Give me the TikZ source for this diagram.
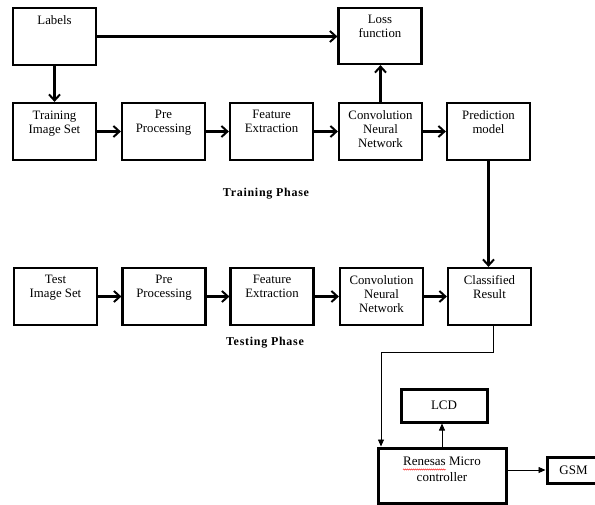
\documentclass[tikz,border=0pt]{standalone}
\usepackage{fontspec}
\setmainfont{Liberation Serif}
\usetikzlibrary{arrows.meta,decorations.pathmorphing}
\begin{document}
\begin{tikzpicture}[x=1pt,y=-1pt,
  blk/.style={draw, line width=2.2pt, minimum width=83pt, minimum height=57pt, inner sep=0pt},
  hw/.style={draw, line width=3pt, inner sep=0pt},
  txt/.style={font=\fontsize{12.8}{14}\selectfont, align=center, inner sep=0pt, anchor=north, yshift=-8.5pt},
  hwtxt/.style={font=\fontsize{13}{16}\selectfont, align=center},
  phase/.style={font=\fontsize{12}{14}\selectfont\bfseries\addfontfeature{LetterSpace=6}},
  thk/.style={line width=2.2pt, -{Straight Barb[length=6pt,width=11pt,line width=2pt]}},
  thn/.style={line width=0.8pt, -{Triangle[length=7pt,width=6pt]}}
]
\clip (0,0) rectangle (595,504);
% training row
\node[blk, label={[txt]north:{Labels}}] (lab) at (54.5,36.5) {};
\node[blk, minimum height=56pt, label={[txt]north:{Loss\\function}}] (loss) at (380,36) {};
\node[blk, label={[txt]north:{Training\\Image Set}}] (tr) at (54.5,131.5) {};
\node[blk, label={[txt]north:{Pre\\Processing}}] (pp1) at (163.5,131.5) {};
\node[blk, label={[txt]north:{Feature\\Extraction}}] (fe1) at (271.5,131.5) {};
\node[blk, label={[txt]north:{Convolution\\Neural\\Network}}] (cnn1) at (380.5,131.5) {};
\node[blk, label={[txt]north:{Prediction\\model}}] (pm) at (488.5,131.5) {};
\node[phase] (trp) at (266,194) {Training Phase};
% testing row
\node[blk, label={[txt]north:{Test\\Image Set}}] (te) at (55.5,296.5) {};
\node[blk, label={[txt]north:{Pre\\Processing}}] (pp2) at (164,296.5) {};
\node[blk, label={[txt]north:{Feature\\Extraction}}] (fe2) at (272,296.5) {};
\node[blk, label={[txt]north:{Convolution\\Neural\\Network}}] (cnn2) at (381.5,296.5) {};
\node[blk, label={[txt]north:{Classified\\Result}}] (cr) at (489.5,296.5) {};
\node[phase] (tep) at (265,343) {Testing Phase};
% hardware
\node[hw, minimum width=86pt, minimum height=33pt, hwtxt] (lcd) at (444,405.5) {LCD};
\node[hw, minimum width=128pt, minimum height=55pt,
  label={[hwtxt, inner sep=0pt, anchor=north, yshift=-10pt]north:{Renesas Micro\\controller}}] (rm) at (442,475.5) {};
\node[hw, minimum width=53pt, minimum height=26pt, hwtxt] (gsm) at (573.5,470) {GSM};
\draw[red, line width=0.4pt, decorate, decoration={snake, segment length=2pt, amplitude=0.6pt}] (403,469.5) -- (446,469.5);
% connectors
\draw[thk] (lab.east) -- (lab.east -| loss.west);
\draw[thk] (lab.south) -- (tr.north);
\draw[thk] (tr.east) -- (pp1.west);
\draw[thk] (pp1.east) -- (fe1.west);
\draw[thk] (fe1.east) -- (cnn1.west);
\draw[thk] (cnn1.east) -- (pm.west);
\draw[thk] (cnn1.north) -- (cnn1.north |- loss.south);
\draw[thk] (pm.south) -- (pm.south |- cr.north);
\draw[thk] (te.east) -- (pp2.west);
\draw[thk] (pp2.east) -- (fe2.west);
\draw[thk] (fe2.east) -- (cnn2.west);
\draw[thk] (cnn2.east) -- (cr.west);
\coordinate (turn) at (381,352);
\draw[thn] ([xshift=3.5pt]cr.south) |- (turn) -- (turn |- rm.north);
\draw[thn] (rm.north) -- (rm.north |- lcd.south);
\draw[thn] (gsm.west -| rm.east) -- (gsm.west);
\end{tikzpicture}
\end{document}
